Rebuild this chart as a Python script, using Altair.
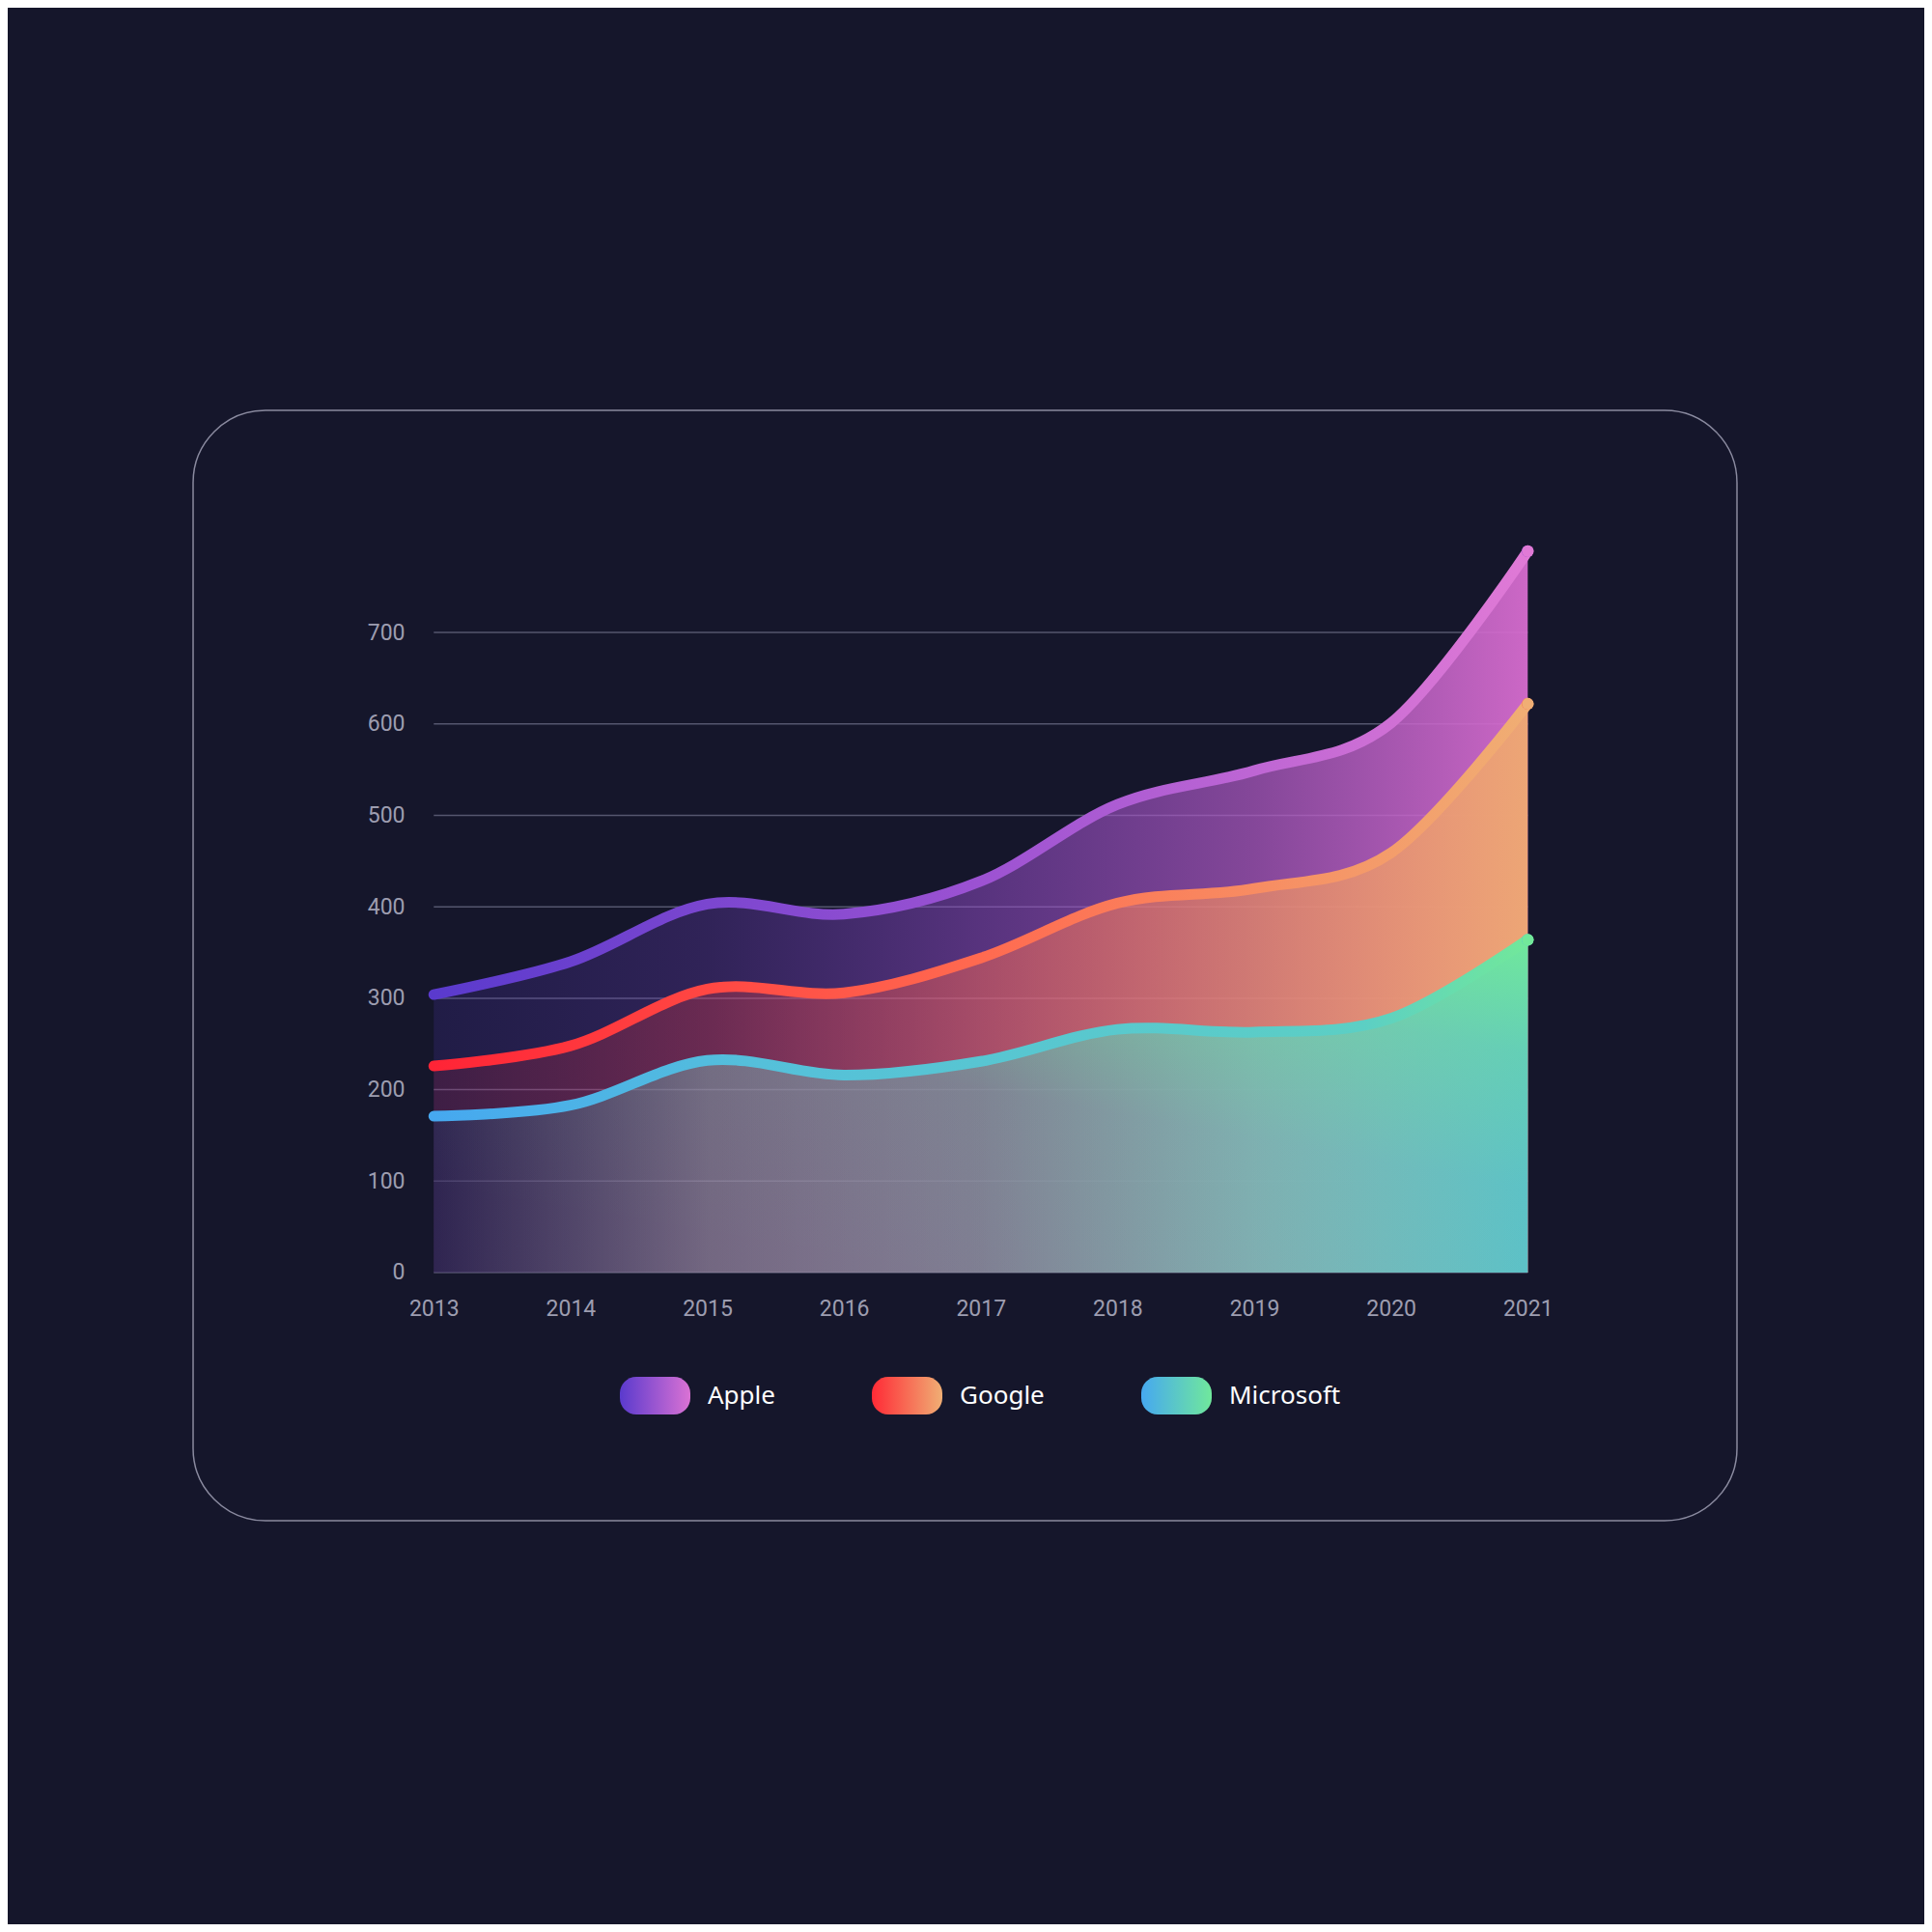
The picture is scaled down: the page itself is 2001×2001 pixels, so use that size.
import altair as alt
import pandas as pd

# values
years = [2013, 2014, 2015, 2016, 2017, 2018, 2019, 2020, 2021]
apple = [304, 340, 403, 392, 428, 512, 549, 601, 789]
google = [226, 248, 310, 306, 344, 404, 420, 459, 622]
microsoft = [171, 183, 232, 216, 231, 266, 263, 278, 364]
companies = ["Apple", "Google", "Microsoft"]
grid_values = [0, 100, 200, 300, 400, 500, 600, 700]

BG = "#15162b"
LABEL = "#9d9db0"

# legend pill colours (start, end) and end-of-line dot colours
legend_colors = [("#5a3acd", "#da72d4"), ("#ff2a36", "#f0ae74"), ("#46a8f0", "#70e89c")]
dot_colors = ["#e07ad6", "#f0ae74", "#72e89a"]

rows = []
for name, vals in zip(companies, [apple, google, microsoft]):
    for yr, v in zip(years, vals):
        rows.append({"company": name, "year": yr, "value": v})
df = pd.DataFrame(rows)
grid = pd.DataFrame({"value": grid_values, "start": years[0], "end": years[-1]})


def grad(stops, x1=0, y1=0, x2=1, y2=0):
    return alt.Gradient(
        gradient="linear", x1=x1, y1=y1, x2=x2, y2=y2,
        stops=[alt.GradientStop(offset=o, color=c) for o, c in stops],
    )


x_scale = alt.Scale(domain=[2011.24, 2022.53], nice=False, zero=False)
y_scale = alt.Scale(domain=[-271.4, 943], nice=False, zero=False)

x_axis = alt.Axis(values=years, format="d", title=None, grid=False, domain=False,
                  ticks=False, offset=-257, labelPadding=26, labelFont="Roboto",
                  labelFontSize=23, labelColor=LABEL, labelOverlap=False, labelFlush=False)
y_axis = alt.Axis(values=grid_values, title=None, grid=False, domain=False,
                  ticks=False, offset=-249, labelPadding=30, labelFont="Roboto",
                  labelFontSize=23, labelColor=LABEL, labelOverlap=False, labelFlush=False)

gridlines = alt.Chart(grid).mark_rule(color="#55566e", strokeWidth=1.5).encode(
    x=alt.X("start:Q", scale=x_scale, axis=x_axis),
    x2="end:Q",
    y=alt.Y("value:Q", scale=y_scale, axis=y_axis),
)


def series(name):
    return alt.Chart(df).transform_filter(alt.datum.company == name)


def area(name, fill):
    return series(name).mark_area(interpolate="cardinal", color=fill, opacity=1).encode(
        x=alt.X("year:Q", scale=x_scale),
        y=alt.Y("value:Q", scale=y_scale),
        y2=alt.datum(0),
    )


def line(name, stroke):
    return series(name).mark_line(interpolate="cardinal", color=stroke, strokeWidth=11,
                                  strokeCap="round").encode(
        x=alt.X("year:Q", scale=x_scale),
        y=alt.Y("value:Q", scale=y_scale),
    )


area_a = area("Apple", grad([(0, "rgba(90,60,205,0.17)"), (0.25, "rgba(122,70,208,0.27)"),
                             (0.5, "rgba(154,80,208,0.5)"), (0.75, "rgba(180,92,200,0.7)"),
                             (1, "rgba(214,108,206,0.95)")]))
area_g = area("Google", grad([(0, "rgba(255,42,58,0.13)"), (0.25, "rgba(255,62,66,0.28)"),
                              (0.5, "rgba(255,106,80,0.47)"), (0.75, "rgba(240,144,100,0.7)"),
                              (1, "rgba(238,168,114,0.96)")]))
area_m1 = area("Microsoft", grad([(0, "rgba(30,45,95,0.45)"), (0.25, "rgba(126,177,187,0.45)"),
                                  (0.5, "rgba(95,167,181,0.55)"), (0.75, "rgba(100,190,198,0.75)"),
                                  (1, "rgba(92,192,200,1)")]))
area_m2 = area("Microsoft", grad([(0, "rgba(112,230,156,0)"), (0.45, "rgba(112,230,156,0.05)"),
                                  (0.75, "rgba(112,230,156,0.4)"), (1, "rgba(112,232,156,1)")],
                                 x1=0.4, y1=1, x2=1, y2=0))

line_a = line("Apple", grad([(0, "#5a3acd"), (0.5, "#9c52d2"), (1, "#e07ad6")]))
line_g = line("Google", grad([(0, "#ff2436"), (0.5, "#ff6a50"), (1, "#f0ae74")]))
line_m = line("Microsoft", grad([(0, "#46a8f0"), (0.3, "#55c0da"), (0.85, "#5ccfc4"),
                                 (1, "#72e89a")]))

# rounded pill for the legend, drawn in the -1..1 unit square
PILL = ("M -0.534 -0.534 L 0.534 -0.534 A 0.466 0.466 0 0 1 1 -0.068 L 1 0.068 "
        "A 0.466 0.466 0 0 1 0.534 0.534 L -0.534 0.534 A 0.466 0.466 0 0 1 -1 0.068 "
        "L -1 -0.068 A 0.466 0.466 0 0 1 -0.534 -0.534 Z")


def grad_expr(c0, c1):
    return ("{gradient: 'linear', x1: 0, y1: 0, x2: 1, y2: 0, stops: "
            "[{offset: 0, color: '%s'}, {offset: 1, color: '%s'}]}" % (c0, c1))


legend = alt.Legend(
    title=None, orient="none", legendX=442, legendY=984, direction="horizontal",
    columnPadding=100, labelOffset=18, labelFont="Noto Sans", labelFontSize=26,
    labelColor="#ffffff", symbolType=PILL, symbolSize=5329, symbolStrokeWidth=0,
    symbolOpacity=1, padding=0,
)

last = alt.Chart(df).transform_filter(alt.datum.year == years[-1])

# hidden under the end dots; only here to carry the gradient legend
legend_layer = last.mark_circle(size=150, opacity=1).encode(
    x=alt.X("year:Q", scale=x_scale),
    y=alt.Y("value:Q", scale=y_scale),
    fill=alt.Fill("company:N",
                  scale=alt.Scale(range=[alt.ExprRef(expr=grad_expr(*c)) for c in legend_colors]),
                  legend=legend),
)

dots = last.mark_circle(size=150, opacity=1).encode(
    x=alt.X("year:Q", scale=x_scale),
    y=alt.Y("value:Q", scale=y_scale),
    color=alt.Color("company:N", scale=alt.Scale(domain=companies, range=dot_colors),
                    legend=None),
)

chart = alt.layer(
    gridlines, area_a, area_g, area_m1, area_m2, line_a, line_g, line_m, legend_layer, dots
).properties(
    width=1599, height=1150, background=BG,
    padding={"left": 192, "top": 417, "right": 194, "bottom": 418},
    autosize=alt.AutoSizeParams(type="none"),
).configure_view(stroke="#8a8a9f", strokeWidth=1.5, cornerRadius=75, fill=BG)

chart.save("out.html", embed_options={"renderer": "svg", "actions": False})
